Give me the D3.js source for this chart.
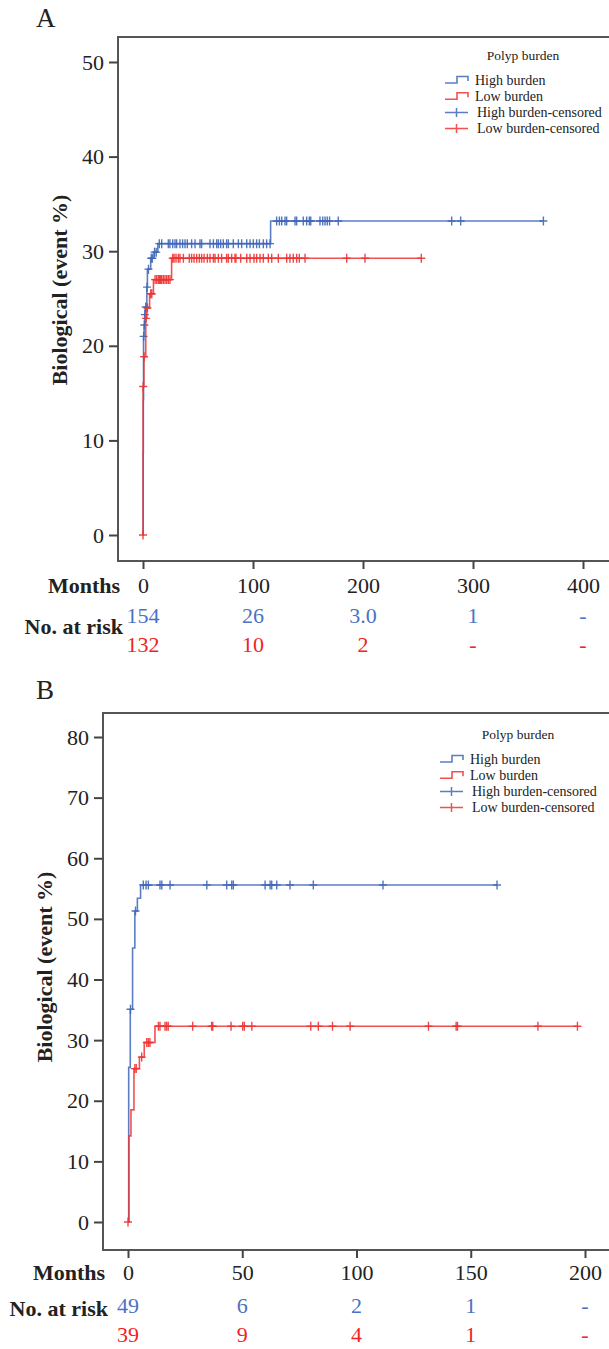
<!DOCTYPE html>
<html lang="en">
<head>
<meta charset="UTF-8">
<title>Polyp burden - biological event</title>
<script src="https://cdnjs.cloudflare.com/ajax/libs/d3/7.8.5/d3.min.js"></script>
<style>
  body { margin: 0; background: #fff; }
  svg text { font-family: "Liberation Serif", "DejaVu Serif", serif; fill: #222; }
</style>
</head>
<body>
<div id="chart"></div>
<script>
// ---- panel A data (months, event %) ----
const highA_t = [0, 0.1, 0.3, 0.5, 1, 1.5, 2, 3.5, 4, 7, 10, 13.5, 116];
const highA_v = [0, 8.7, 14.3, 21.0, 22.2, 23.3, 24.1, 26.2, 28.1, 29.25, 29.9, 30.8, 33.2];
const highA_end = 364;
const highA_cens = [0.6, 1.2, 1.7, 2.5, 3.7, 5, 7.5, 8.5, 10.5, 12, 14.8, 17, 23, 24.5, 27, 29.1, 30.6,
  33.6, 36, 38.2, 40.3, 44.2, 47.3, 51.8, 53.3, 60.9, 64, 67, 68.5, 70.6, 73, 76, 77.6, 82.1, 86.7,
  89.7, 94.3, 97.3, 100.3, 103.3, 105.8, 109.4, 112.4, 115.5, 121.5, 124, 126.1, 129.1, 130.6, 138.2,
  139.7, 145.7, 148.8, 151.2, 152.5, 160.9, 163.4, 165.5, 167.5, 169.6, 177.5, 280.6, 288.8, 364];

const lowA_t = [0, 0.1, 0.8, 2.5, 3.5, 6, 9.5, 26];
const lowA_v = [0, 15.7, 18.85, 22.9, 24.0, 25.5, 27.0, 29.25];
const lowA_end = 253;
const lowA_cens = [0, 0.2, 1, 2.8, 4, 7, 8, 11, 12.5, 14, 15, 16, 17, 18.5, 20, 21.5, 23, 24.5,
  27, 28.2, 30, 32.1, 33.6, 36.7, 42.1, 44.2, 46.4, 48.8, 51.2, 53.3, 55.5, 58.5, 60.9, 64, 65.5,
  68.5, 71.5, 76, 77.6, 80.6, 83.6, 84.5, 88.8, 94.3, 97.3, 100.9, 103.3, 106.4, 109.4, 113.9, 117,
  123, 130.6, 133.6, 136.6, 139.7, 142.1, 147.3, 185.2, 201.8, 253];

const ticksA = [0, 100, 200, 300, 400];
const riskHighA = ["154", "26", "3.0", "1", "-"];
const riskLowA = ["132", "10", "2", "-", "-"];

// ---- panel B data ----
const highB_t = [0, 0.3, 1.0, 2, 3, 4.1, 5.5];
const highB_v = [0, 25.5, 35.1, 45.2, 51.3, 53.4, 55.6];
const highB_end = 161.5;
const highB_cens = [1.1, 3.3, 6.7, 7.9, 8.9, 14, 14.8, 18.4, 34.5, 43.2, 45.4, 46.1, 60, 62.2, 62.9,
  65.1, 70.9, 81.1, 111.6, 161.5];

const lowB_t = [0, 0.4, 1.3, 2.6, 5, 7.1, 11.8];
const lowB_v = [0, 14.2, 18.5, 25.3, 27.2, 29.6, 32.3];
const lowB_end = 196.7;
const lowB_cens = [0, 3, 3.6, 6, 8.2, 8.9, 9.6, 13.3, 14, 16.2, 16.9, 17.6, 28.3, 36.6, 37.1, 45.1,
  50.2, 50.9, 54.2, 80, 83.3, 89.5, 97.2, 131.5, 143.6, 144.2, 179.4, 196.7];

const ticksB = [0, 50, 100, 150, 200];
const riskHighB = ["49", "6", "2", "1", "-"];
const riskLowB = ["39", "9", "4", "1", "-"];

const legendLabels = ["High burden", "Low burden", "High burden-censored", "Low burden-censored"];

const BLUE = "#3f66b8", RED = "#ee3232";
const BLUE_TXT = "#4a72c4", RED_TXT = "#f02424";
const SERIF = "'Liberation Serif', 'DejaVu Serif', serif";

const svg = d3.select("#chart").append("svg")
  .attr("width", 609).attr("height", 1349)
  .style("font-family", SERIF);

function stepValue(ts, vs, t) {
  const i = d3.bisectRight(ts, t) - 1;
  return vs[Math.max(0, i)];
}

function drawPanel(p) {
  const g = svg.append("g");
  const x = d3.scaleLinear().domain(p.xDomain).range(p.xRange);
  const y = d3.scaleLinear().domain(p.yDomain).range(p.yRange);

  // panel letter
  g.append("text").attr("x", p.letterX).attr("y", p.letterY)
    .style("font-size", "27px").text(p.letter);

  // frame (right side runs off the page like the source figure)
  g.append("path")
    .attr("d", `M640,${p.top}H${p.left}V${p.bottom}H640`)
    .attr("fill", "none").attr("stroke", "#555").attr("stroke-width", 2);

  // y axis
  const ya = g.append("g").attr("transform", `translate(${p.left},0)`)
    .call(d3.axisLeft(y).tickValues(p.yTicks).tickSize(9).tickPadding(5).tickFormat(d3.format("d")));
  ya.attr("font-family", null);
  ya.select(".domain").remove();
  ya.selectAll("line").attr("stroke", "#444").attr("stroke-width", 2);
  ya.selectAll("text").style("font-size", "22px").attr("fill", "#222").style("font-family", SERIF);

  // x axis
  const xa = g.append("g").attr("transform", `translate(0,${p.bottom})`)
    .call(d3.axisBottom(x).tickValues(p.xTicks).tickSize(8).tickPadding(p.xPad));
  xa.attr("font-family", null);
  xa.select(".domain").remove();
  xa.selectAll("line").attr("stroke", "#444").attr("stroke-width", 2);
  xa.selectAll("text").style("font-size", "22px").attr("fill", "#222").style("font-family", SERIF);

  g.append("text").attr("x", p.left + 2).attr("y", p.monthsY)
    .attr("text-anchor", "end").style("font-size", "22px").style("font-weight", "bold")
    .text("Months");

  // y title
  g.append("text")
    .attr("transform", `translate(${p.titleX},${p.titleY}) rotate(-90)`)
    .attr("text-anchor", "middle").style("font-size", "22px").style("font-weight", "bold")
    .text("Biological (event %)");

  // curves + censor marks
  p.series.forEach(s => {
    const pts = s.t.map((t, i) => [t, s.v[i]]);
    pts.push([s.end, s.v[s.v.length - 1]]);
    const line = d3.line().x(d => x(d[0])).y(d => y(d[1])).curve(d3.curveStepAfter);
    g.append("path").attr("d", line(pts)).attr("fill", "none")
      .attr("stroke", s.color).attr("stroke-width", 1.6).attr("stroke-opacity", 0.85);
    g.append("g").selectAll("path").data(s.cens).join("path")
      .attr("d", t => {
        const cx = x(t), cy = y(stepValue(s.t, s.v, t));
        return `M${cx - 4},${cy}H${cx + 4}M${cx},${cy - 4.5}V${cy + 4.5}`;
      })
      .attr("stroke", s.color).attr("stroke-width", 1.4).attr("stroke-opacity", 0.9);
  });

  // legend
  const lg = g.append("g");
  lg.append("text").attr("x", p.legX + 78).attr("y", p.legY - 20)
    .attr("text-anchor", "middle").style("font-size", "13.5px").text("Polyp burden");
  legendLabels.forEach((lab, i) => {
    const ly = p.legY + i * 16.2;
    const col = i % 2 === 0 ? BLUE : RED;
    if (i < 2) {
      lg.append("path")
        .attr("d", `M${p.legX},${ly + 3}H${p.legX + 12}V${ly - 3.5}H${p.legX + 23}V${ly + 1}`)
        .attr("fill", "none").attr("stroke", col).attr("stroke-width", 1.6).attr("stroke-opacity", 0.85);
    } else {
      lg.append("path")
        .attr("d", `M${p.legX},${ly}H${p.legX + 23}M${p.legX + 11.5},${ly - 4.5}V${ly + 4.5}`)
        .attr("stroke", col).attr("stroke-width", 1.5).attr("stroke-opacity", 0.85);
    }
    lg.append("text").attr("x", p.legX + (i < 2 ? 30 : 32)).attr("y", ly).attr("dy", "0.33em")
      .style("font-size", "14px").text(lab);
  });

  // risk table
  g.append("text").attr("x", p.left + 5).attr("y", p.riskLabelY).attr("dy", "0.33em")
    .attr("text-anchor", "end").style("font-size", "22px").style("font-weight", "bold")
    .text("No. at risk");
  [[p.riskHigh, p.riskHighY, BLUE_TXT], [p.riskLow, p.riskLowY, RED_TXT]].forEach(([vals, ry, col]) => {
    g.append("g").selectAll("text").data(vals).join("text")
      .attr("x", (d, i) => x(p.xTicks[i])).attr("y", ry).attr("dy", "0.33em")
      .attr("text-anchor", "middle").style("font-size", "22px").style("fill", col)
      .text(d => d);
  });
}

drawPanel({
  letter: "A", letterX: 36, letterY: 27,
  xDomain: [0, 400], xRange: [143, 583], xTicks: ticksA, xPad: 8,
  yDomain: [0, 50], yRange: [535, 62], yTicks: [0, 10, 20, 30, 40, 50],
  left: 118, top: 37, bottom: 561, monthsY: 593,
  titleX: 67, titleY: 290,
  legX: 445, legY: 80,
  riskLabelY: 627, riskHighY: 616, riskLowY: 645,
  riskHigh: riskHighA, riskLow: riskLowA,
  series: [
    { t: highA_t, v: highA_v, end: highA_end, cens: highA_cens, color: BLUE },
    { t: lowA_t, v: lowA_v, end: lowA_end, cens: lowA_cens, color: RED }
  ]
});

drawPanel({
  letter: "B", letterX: 36, letterY: 699,
  xDomain: [0, 200], xRange: [128, 585], xTicks: ticksB, xPad: 6,
  yDomain: [0, 80], yRange: [1222, 737], yTicks: [0, 10, 20, 30, 40, 50, 60, 70, 80],
  left: 103, top: 713, bottom: 1250, monthsY: 1280,
  titleX: 52, titleY: 967,
  legX: 440, legY: 759,
  riskLabelY: 1309, riskHighY: 1306, riskLowY: 1335,
  riskHigh: riskHighB, riskLow: riskLowB,
  series: [
    { t: highB_t, v: highB_v, end: highB_end, cens: highB_cens, color: BLUE },
    { t: lowB_t, v: lowB_v, end: lowB_end, cens: lowB_cens, color: RED }
  ]
});
</script>
</body>
</html>
